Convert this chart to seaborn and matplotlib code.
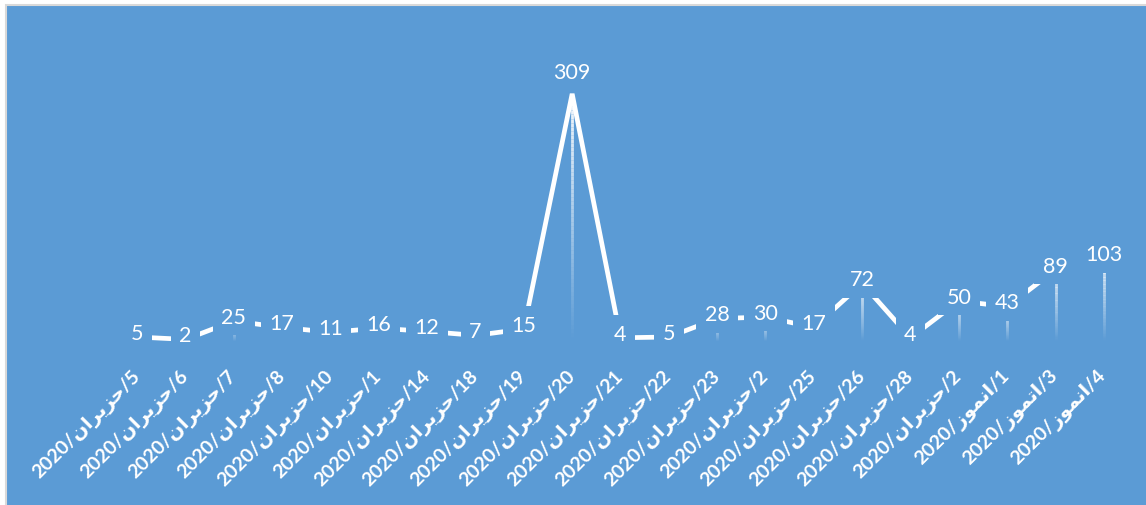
import numpy as np
import pandas as pd
import matplotlib
matplotlib.use("Agg")
import matplotlib.pyplot as plt
import seaborn as sns
from matplotlib.collections import LineCollection
from matplotlib.patches import Rectangle

# ---------------- data ----------------
days = [5, 6, 7, 8, 10, 1, 14, 18, 19, 20, 21, 22, 23, 2, 25, 26, 28, 2, 1, 3, 4]
months = ["حزيران"] * 18 + ["انموز", "اتموز", "انموز"]
year = 2020
cases = [5, 2, 25, 17, 11, 16, 12, 7, 15, 309, 4, 5, 28, 30, 17, 72, 4, 50, 43, 89, 103]

# ------------- Arabic shaping (matplotlib has no shaper) -------------
FORMS = {
    'ا': ('R', 0xFE8D), 'ح': ('D', 0xFEA1), 'ز': ('R', 0xFEAF),
    'ي': ('D', 0xFEF1), 'ر': ('R', 0xFEAD), 'ن': ('D', 0xFEE5),
    'ت': ('D', 0xFE95), 'م': ('D', 0xFEE1), 'و': ('R', 0xFEED),
}


def shape(word):
    out = []
    for i, ch in enumerate(word):
        jt, base = FORMS[ch]
        prev_j = i > 0 and FORMS[word[i - 1]][0] == 'D'
        next_j = jt == 'D' and i < len(word) - 1
        off = 3 if (prev_j and next_j) else 1 if prev_j else 2 if next_j else 0
        out.append(chr(base + off))
    return ''.join(reversed(out))


labels = [f"{year}/{shape(m)}/{d}" for d, m in zip(days, months)]

df = pd.DataFrame({"pos": np.arange(len(cases)), "cases": cases})

# ---------------- style ----------------
BLUE = "#5B9BD5"
sns.set_style("white")
plt.rcParams['font.family'] = ['Lato', 'DejaVu Sans']

W, H = 1146, 506
fig = plt.figure(figsize=(W / 100, H / 100), dpi=100, facecolor="white")
bg = Rectangle((6 / W, -0.1), 1.2, (H - 6) / H + 0.1,
               transform=fig.transFigure, facecolor=BLUE,
               edgecolor="#D9D9D9", linewidth=1.5, zorder=-10)
fig.patches.append(bg)

ax = fig.add_axes([113 / W, (H - 342) / H, (1128 - 113) / W, (342 - 62) / H])
ax.set_zorder(5)
ax.patch.set_alpha(0)

# gradient drop lines
N = 60
for i, v in zip(df["pos"], df["cases"]):
    ys = np.linspace(v, 0, N + 1)
    segs = [[(i, ys[k]), (i, ys[k + 1])] for k in range(N)]
    alphas = np.linspace(0.95, 0.0, N)
    cols = [(1, 1, 1, a) for a in alphas]
    lc = LineCollection(segs, colors=cols, linewidths=2.0, zorder=2,
                        capstyle='butt')
    ax.add_collection(lc)

sns.lineplot(data=df, x="pos", y="cases", ax=ax, color="white",
             linewidth=3.4, zorder=3)
for ln in ax.lines:
    ln.set_solid_joinstyle('bevel')
    ln.set_solid_capstyle('butt')

vmax = max(cases)
for i, v in zip(df["pos"], df["cases"]):
    if v == vmax:
        ax.annotate(str(v), (i, v), xytext=(0, 16), textcoords="offset points",
                    ha="center", va="center", fontsize=15.5, color="white",
                    zorder=5)
    else:
        ax.annotate(str(v), (i, v), xytext=(0, 3), textcoords="offset points",
                    ha="center", va="center", fontsize=15.5, color="white",
                    zorder=5,
                    bbox=dict(boxstyle="square,pad=0.4", fc=BLUE, ec="none"))

ax.set_xlim(-0.5, len(cases) - 0.5)
ax.set_ylim(0, 350)
ax.set_xticks(df["pos"])
ax.set_xticklabels(labels, rotation=45, ha="right", va="center",
                   rotation_mode="anchor", fontsize=14, fontweight="bold",
                   color="white")
ax.tick_params(axis="x", length=0, pad=23)
ax.set_yticks([])
ax.set_xlabel("")
ax.set_ylabel("")
for s in ax.spines.values():
    s.set_visible(False)

fig.savefig("out.png", dpi=100, facecolor=fig.get_facecolor())
